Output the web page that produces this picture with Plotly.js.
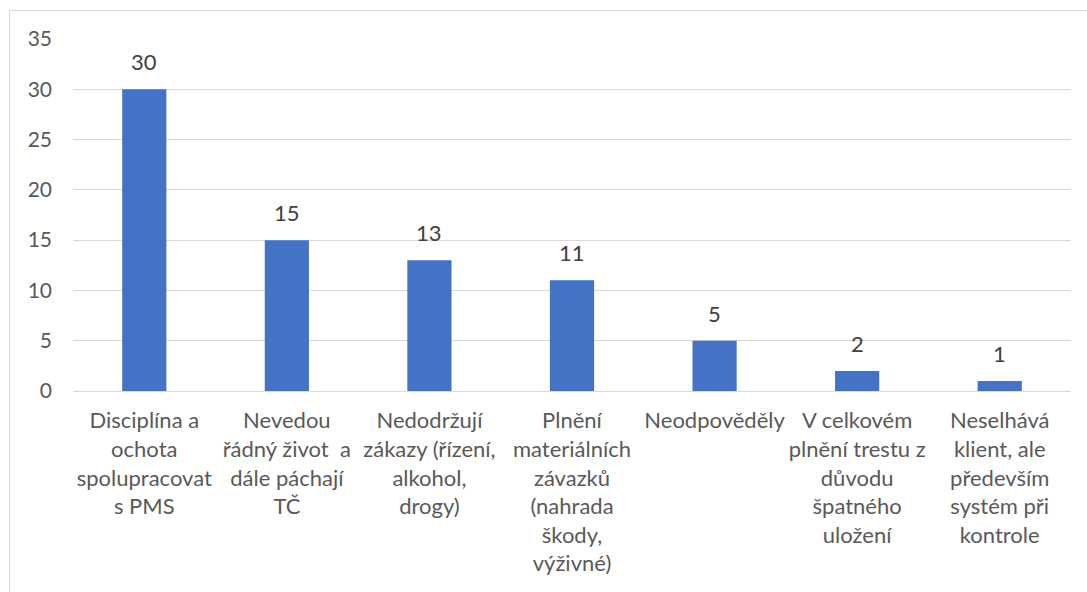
<!DOCTYPE html>
<html>
<head>
<meta charset="utf-8">
<script src="https://cdn.plot.ly/plotly-3.0.1.min.js"></script>
<style>
html,body{margin:0;padding:0;background:#fff;}
#chart{width:1087px;height:592px;position:absolute;left:0;top:0;}
#frame{position:absolute;left:9px;top:10px;width:1100px;height:600px;border:1px solid #d9d9d9;pointer-events:none;}
</style>
</head>
<body>
<div id="chart"></div>
<div id="frame"></div>
<script>
const categories = [
  "Disciplína a<br>ochota<br>spolupracovat<br>s PMS",
  "Nevedou<br>řádný život  a<br>dále páchají<br>TČ",
  "Nedodržují<br>zákazy (řízení,<br>alkohol,<br>drogy)",
  "Plnění<br>materiálních<br>závazků<br>(nahrada<br>škody,<br>výživné)",
  "Neodpověděly",
  "V celkovém<br>plnění trestu z<br>důvodu<br>špatného<br>uložení",
  "Neselhává<br>klient, ale<br>především<br>systém při<br>kontrole"
];
const values = [30, 15, 13, 11, 5, 2, 1];
const yTicks = [0, 5, 10, 15, 20, 25, 30, 35];

const font = "Lato, 'Open Sans', sans-serif";

const labels = categories.map((c, i) => ({
  x: c, y: values[i], xref: 'x', yref: 'y',
  text: String(values[i]), showarrow: false,
  yanchor: 'bottom', yshift: 12,
  font: {family: font, size: 22, color: '#404040'}
}));

Plotly.newPlot('chart', [{
  type: 'bar',
  x: categories,
  y: values,
  marker: {color: '#4472c4'},
  width: 0.31,
  hoverinfo: 'none'
}], {
  width: 1087,
  height: 592,
  margin: {l: 73, r: 16, t: 39, b: 201},
  paper_bgcolor: '#ffffff',
  plot_bgcolor: '#ffffff',
  showlegend: false,
  font: {family: font, color: '#595959'},
  annotations: labels,
  xaxis: {
    type: 'category',
    tickfont: {family: font, size: 22, color: '#595959'},
    showgrid: false,
    showline: true,
    linecolor: '#d9d9d9',
    linewidth: 1,
    ticks: '',
    ticklabelstandoff: 10,
    fixedrange: true
  },
  yaxis: {
    range: [0, 35],
    tickvals: yTicks,
    ticktext: yTicks.map(String),
    tickfont: {family: font, size: 21, color: '#595959'},
    showgrid: true,
    gridcolor: '#d9d9d9',
    gridwidth: 1,
    zeroline: false,
    showline: false,
    ticks: '',
    ticklabelstandoff: 20,
    fixedrange: true
  }
}, {staticPlot: true, displayModeBar: false});
</script>
</body>
</html>
